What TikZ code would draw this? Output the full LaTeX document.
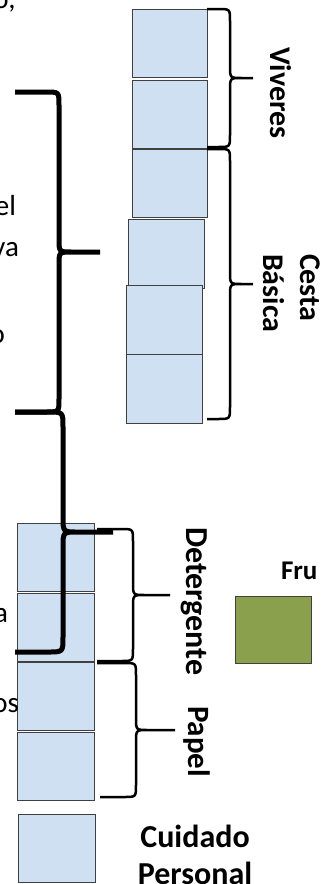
\documentclass[tikz,border=0pt]{standalone}
\usepackage{fontspec}
\setmainfont{Carlito}
\definecolor{boxblue}{RGB}{207,224,242}
\definecolor{boxline}{RGB}{64,64,64}
\definecolor{olivebox}{RGB}{138,160,76}
\newcommand{\rbr}[8]{\draw[#1] (#2,#3) -- ({#6-#8},#3) .. controls (#6,#3) .. (#6,{#3+#8}) -- (#6,{(#3+#5)/2-#8}) .. controls (#6,{(#3+#5)/2}) .. ({#6+#8},{(#3+#5)/2}) -- (#7,{(#3+#5)/2}) ({#6+#8},{(#3+#5)/2}) .. controls (#6,{(#3+#5)/2}) .. (#6,{(#3+#5)/2+#8}) -- (#6,{#5-#8}) .. controls (#6,#5) .. ({#6-#8},#5) -- (#4,#5);}
\begin{document}
\begin{tikzpicture}[x=1pt,y=-1pt,
  item/.style={draw=boxline, line width=1pt, fill=boxblue, minimum width=75pt, minimum height=68pt, inner sep=0pt, outer sep=0pt},
  fruitbox/.style={draw=boxline, line width=1pt, fill=olivebox, minimum width=76pt, minimum height=67pt, inner sep=0pt},
  thinbrace/.style={line width=2.5pt, black},
  thickbrace/.style={line width=5pt, black},
  frag/.style={font=\fontsize{29}{35}\selectfont, inner sep=0pt, outer sep=0pt},
  lab/.style={font=\bfseries\fontsize{30}{36}\selectfont, inner sep=0pt, outer sep=0pt}]
\useasboundingbox (0,0) rectangle (322,884);
\clip (0,0) rectangle (322,884);
% upper column
\node[item] (b1) at (169.5,43) {};
\node[item] (b2) at (169.5,114) {};
\node[item] (b3) at (169.5,183) {};
\node[item, minimum width=76pt, minimum height=69pt] (b4) at (166,253.5) {};
\node[item, minimum width=76pt, minimum height=69pt] (b5) at (164,319.5) {};
\node[item, minimum width=76pt, minimum height=69pt] (b6) at (164,388.5) {};
% lower column
\node[item, minimum width=77pt] (c1) at (55.5,557) {};
\node[item, minimum width=77pt] (c2) at (55.5,627) {};
\node[item, minimum width=77pt] (c3) at (55.5,696) {};
\node[item, minimum width=77pt] (c4) at (55.5,766) {};
\node[item, minimum width=77pt] (c5) at (56.5,848) {};
% fruit box
\node[fruitbox] (g1) at (273,629.5) {};
% braces
\rbr{thinbrace}{207}{9}{207}{147}{230}{253}{12}
\rbr{thinbrace}{207}{149}{207}{419}{230}{253}{12}
\rbr{thinbrace}{97}{529}{97}{661}{133}{170}{12}
\rbr{thinbrace}{97}{663}{100}{797}{136}{175}{12}
\rbr{thickbrace}{15}{92}{15}{412}{59}{100}{13}
\rbr{thickbrace}{15}{412}{15}{652}{63}{113}{15}
% cut-off text on the left
\node[frag, anchor=base east] (t1) at (15.5,8) {o,};
\node[frag, anchor=base east] (t2) at (16,215) {el};
\node[frag, anchor=base east] (t3) at (19,256) {va};
\node[frag, anchor=base east] (t4) at (5,343) {o};
\node[frag, anchor=base east] (t5) at (8,622) {a};
\node[frag, anchor=base east] (t6) at (19,712) {os};
% labels
\node[lab, rotate=-90, anchor=base west] (viv) at (270,47) {Viveres};
\node[lab, rotate=-90, anchor=base west] (ces) at (300,254) {Cesta};
\node[lab, rotate=-90, anchor=base west] (bas) at (263,254) {Básica};
\node[lab, font=\bfseries\fontsize{32}{38}\selectfont, rotate=-90, anchor=base west] (det) at (186,527) {Detergente};
\node[lab, font=\bfseries\fontsize{31}{37}\selectfont, rotate=-90, anchor=base west] (pap) at (188,706) {Papel};
\node[lab, font=\bfseries\fontsize{27}{32}\selectfont, anchor=base west] (fru) at (281,579) {Fru};
\node[lab, font=\bfseries\fontsize{32}{38}\selectfont, anchor=base] (cui) at (195,847) {Cuidado};
\node[lab, font=\bfseries\fontsize{32}{38}\selectfont, anchor=base] (per) at (195,884) {Personal};
\end{tikzpicture}
\end{document}
